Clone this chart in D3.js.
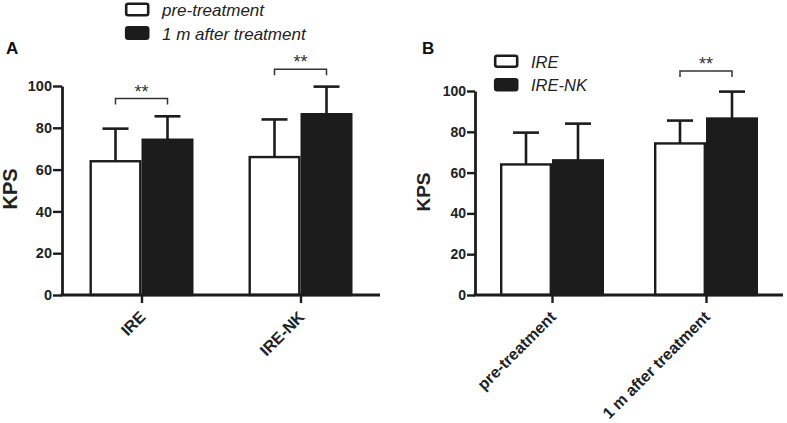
<!DOCTYPE html>
<html>
<head>
<meta charset="utf-8">
<script src="https://cdn.jsdelivr.net/npm/d3@7"></script>
<style>
  html, body { margin: 0; padding: 0; background: #fff; }
  svg { display: block; font-family: "Liberation Sans", Arial, sans-serif; }
</style>
</head>
<body>
<svg id="chart" width="787" height="423"></svg>
<script>
// ---- Data ----
const yTicks = [0, 20, 40, 60, 80, 100];
// Panel A: grouped by treatment arm
const catsA = ["IRE", "IRE-NK"];
const preMeans = [64, 66];
const preSD = [15.6, 18];
const postMeans = [74.3, 86.5];
const postSD = [11.2, 13.2];
const legendA = ["pre-treatment", "1 m after treatment"];
const sigA = ["**", "**"];
const sigLevelA = [94, 108];
// Panel B: grouped by time point
const catsB = ["pre-treatment", "1 m after treatment"];
const ireMeans = [64, 74.3];
const ireSD = [15.6, 11.2];
const nkMeans = [66, 86.5];
const nkSD = [18, 13.2];
const legendB = ["IRE", "IRE-NK"];
const sigB = ["", "**"];
const sigLevelB = [null, 109.8];

const INK = "#1c1c1c";
const svg = d3.select("#chart");

function panel(opt) {
  const g = svg.append("g");
  const y = d3.scaleLinear().domain([0, 100]).range([opt.y0, opt.y100]);
  const x = d3.scalePoint().domain(opt.cats).range([opt.xL, opt.xR]).padding(0.5);
  const sub = d3.scaleBand().domain([0, 1]).range([-opt.bw, opt.bw]);

  // bars
  opt.cats.forEach((c, i) => {
    opt.series.forEach((s, j) => {
      const bx = x(c) + sub(j);
      const bwid = sub.bandwidth();
      const top = y(s.means[i]);
      const cx = bx + bwid / 2;
      // error bar (upper only)
      g.append("line").attr("x1", cx).attr("x2", cx)
        .attr("y1", top).attr("y2", y(s.means[i] + s.sd[i]))
        .attr("stroke", INK).attr("stroke-width", 2.6);
      g.append("line").attr("x1", cx - opt.cap).attr("x2", cx + opt.cap)
        .attr("y1", y(s.means[i] + s.sd[i])).attr("y2", y(s.means[i] + s.sd[i]))
        .attr("stroke", INK).attr("stroke-width", 2.6);
      g.append("rect")
        .attr("x", bx + 1.2).attr("y", top)
        .attr("width", bwid - 2.4).attr("height", y(0) - top)
        .attr("fill", j === 0 ? "#fff" : INK)
        .attr("stroke", INK).attr("stroke-width", 2.4);
    });
    // significance bracket
    if (opt.sig[i]) {
      const x1 = x(c) + sub(0) + sub.bandwidth() / 2;
      const x2 = x(c) + sub(1) + sub.bandwidth() / 2;
      const by = y(opt.sigLevel[i]);
      g.append("path")
        .attr("d", `M${x1},${by + 6}V${by}H${x2}V${by + 6}`)
        .attr("fill", "none").attr("stroke", "#333").attr("stroke-width", 1.5);
      g.append("text").attr("x", (x1 + x2) / 2).attr("y", by - 1)
        .attr("text-anchor", "middle").attr("font-size", 18).attr("fill", "#333")
        .text(opt.sig[i]);
    }
  });

  // y axis
  const ya = g.append("g").attr("transform", `translate(${opt.xL},0)`)
    .call(d3.axisLeft(y).tickValues(yTicks).tickSize(opt.tick).tickPadding(1).tickSizeOuter(0));
  ya.select(".domain").attr("stroke", INK).attr("stroke-width", 2.8);
  ya.selectAll(".tick line").attr("stroke", INK).attr("stroke-width", 2.4);
  ya.selectAll(".tick text").attr("font-size", opt.tickFont).attr("font-weight", "bold")
    .attr("fill", "#222").attr("font-family", "Liberation Sans, Arial, sans-serif");

  // x axis
  const xa = g.append("g").attr("transform", `translate(0,${opt.y0})`)
    .call(d3.axisBottom(x).tickSize(8).tickSizeOuter(0).tickFormat(""));
  xa.select(".domain").attr("stroke", INK).attr("stroke-width", 2.8)
    .attr("d", `M${opt.xL - 1.4},0H${opt.xR}`);
  xa.selectAll(".tick line").attr("stroke", INK).attr("stroke-width", 2.4);
  opt.cats.forEach(c => {
    g.append("text")
      .attr("transform", `translate(${x(c) + opt.lblDx},${opt.y0 + opt.lblDy}) rotate(-45)`)
      .attr("text-anchor", "end").attr("font-size", 16).attr("font-weight", "bold")
      .attr("fill", "#222").text(c);
  });

  // y label
  g.append("text")
    .attr("transform", `translate(${opt.ylabX},${opt.ylabY}) rotate(-90)`)
    .attr("text-anchor", "middle").attr("font-size", opt.ylabFont).attr("font-weight", "bold")
    .attr("fill", "#222").text("KPS");

  // panel letter
  g.append("text").attr("x", opt.letterX).attr("y", 54)
    .attr("font-size", 17).attr("font-weight", "bold").attr("fill", "#111").text(opt.letter);

  // legend
  opt.legend.forEach((t, k) => {
    const ly = opt.legY[k];
    g.append("rect").attr("x", opt.legX + 1.2).attr("y", ly + 1.2)
      .attr("width", 22).attr("height", opt.legH - 2.4).attr("rx", 2)
      .attr("fill", k === 0 ? "#fff" : INK).attr("stroke", INK).attr("stroke-width", 2.6);
    g.append("text").attr("x", opt.legX + 37).attr("y", ly + opt.legH - 0.5)
      .attr("font-size", opt.legFont).attr("font-style", "italic").attr("fill", "#222").text(t);
  });
}

panel({
  cats: catsA,
  series: [{ means: preMeans, sd: preSD }, { means: postMeans, sd: postSD }],
  sig: sigA, sigLevel: sigLevelA,
  y0: 295, y100: 86, xL: 62, xR: 380, bw: 52, cap: 13, tick: 9, tickFont: 14.5,
  lblDx: 5, lblDy: 23,
  ylabX: 17, ylabY: 189, ylabFont: 20,
  letter: "A", letterX: 6,
  legend: legendA, legX: 125, legY: [2.5, 26], legH: 14, legFont: 17
});

panel({
  cats: catsB,
  series: [{ means: ireMeans, sd: ireSD }, { means: nkMeans, sd: nkSD }],
  sig: sigB, sigLevel: sigLevelB,
  y0: 295, y100: 91, xL: 475, xR: 783, bw: 52, cap: 13, tick: 8, tickFont: 14,
  lblDx: 5, lblDy: 23,
  ylabX: 430, ylabY: 192, ylabFont: 19,
  letter: "B", letterX: 422,
  legend: legendB, legX: 494, legY: [54.5, 78], legH: 13.5, legFont: 16.5
});
</script>
</body>
</html>
